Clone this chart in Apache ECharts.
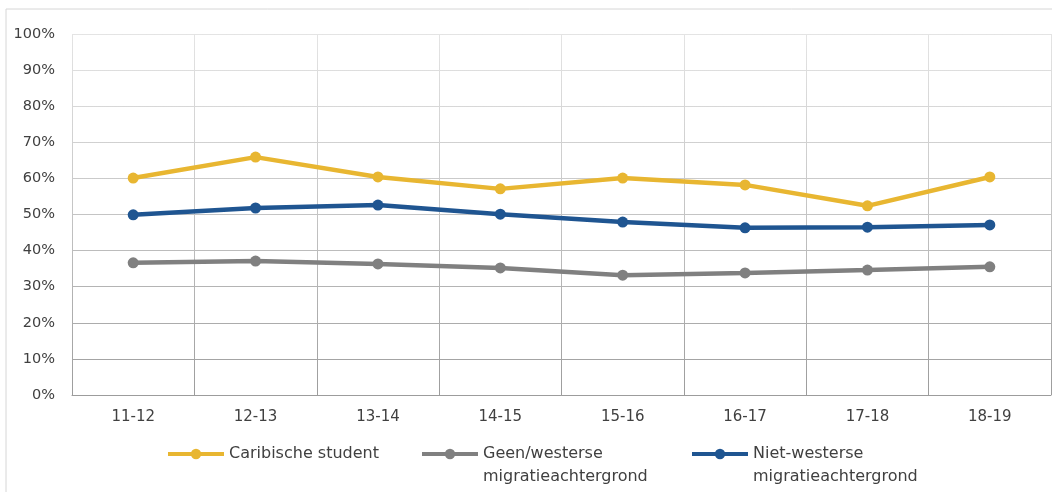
<!DOCTYPE html>
<html>
<head>
<meta charset="utf-8">
<script src="https://cdn.jsdelivr.net/npm/echarts@6/dist/echarts.min.js"></script>
<style>
html,body{margin:0;padding:0;background:#fff;}
#chart{width:1052px;height:492px;}
</style>
</head>
<body>
<div id="chart"></div>
<script>
const categories = ['11-12','12-13','13-14','14-15','15-16','16-17','17-18','18-19'];
const caribisch = [60.1, 65.9, 60.4, 57.1, 60.1, 58.2, 52.4, 60.4];
const geenWesters = [36.6, 37.1, 36.3, 35.2, 33.2, 33.8, 34.6, 35.5];
const nietWesters = [49.9, 51.8, 52.6, 50.1, 47.9, 46.3, 46.5, 47.1];
const seriesNames = ['Caribische student', 'Geen/westerse migratieachtergrond', 'Niet-westerse migratieachtergrond'];
const legendLabels = ['Caribische student', ' \nGeen/westerse\nmigratieachtergrond', ' \nNiet-westerse\nmigratieachtergrond'];
const yTicks = [0,10,20,30,40,50,60,70,80,90,100];

const FONT = 'DejaVu Sans';
const TXT = '#404040';
const colors = ['#E8B631', '#808080', '#1F5591'];
const gridGrad = {type:'linear', x:0, y:34, x2:0, y2:395, global:true,
  colorStops:[{offset:0,color:'#e4e4e4'},{offset:0.5,color:'#c4c4c4'},{offset:1,color:'#9c9c9c'}]};

const chart = echarts.init(document.getElementById('chart'), null, {renderer:'canvas'});

function mkSeries(i, data){
  return {
    name: seriesNames[i], type:'line', data: data,
    symbol:'circle', symbolSize:11,
    lineStyle:{width:4.5, color:colors[i]},
    itemStyle:{color:colors[i]},
    z: 3
  };
}
function mkLegend(i, left, top){
  return {
    data:[seriesNames[i]], left:left, top:top, orient:'horizontal',
    itemWidth:56, itemHeight:13, padding:0,
    lineStyle:{width:4},
    formatter: function(){ return legendLabels[i]; },
    textStyle: {fontFamily:FONT, fontSize:16, color:TXT, lineHeight:23},
    selectedMode:false
  };
}

chart.setOption({
  animation:false,
  backgroundColor:'#fff',
  graphic:[{type:'rect', shape:{x:6, y:9, width:1200, height:700},
    style:{fill:'none', stroke:'#d6d6d6', lineWidth:1}, z:-10, silent:true}],
  grid:{left:72, top:34, right:1, bottom:97, containLabel:false},
  xAxis:{
    type:'category', data:categories, boundaryGap:true,
    axisLine:{show:true, lineStyle:{color:'#9c9c9c', width:1}},
    axisTick:{show:false},
    splitLine:{show:true, lineStyle:{color:gridGrad, width:1}},
    axisLabel:{fontFamily:FONT, fontSize:15, color:TXT, margin:15}
  },
  yAxis:{
    type:'value', min:yTicks[0], max:yTicks[yTicks.length-1], interval:10,
    axisLine:{show:false}, axisTick:{show:false},
    splitLine:{show:true, lineStyle:{color:gridGrad, width:1}},
    axisLabel:{fontFamily:FONT, fontSize:14.5, color:TXT, margin:17, formatter:'{value}%'}
  },
  legend:[
    mkLegend(0, 166, 442.5),
    mkLegend(1, 420, 419.5),
    mkLegend(2, 690, 419.5)
  ],
  series:[ mkSeries(0, caribisch), mkSeries(1, geenWesters), mkSeries(2, nietWesters) ]
});
</script>
</body>
</html>
